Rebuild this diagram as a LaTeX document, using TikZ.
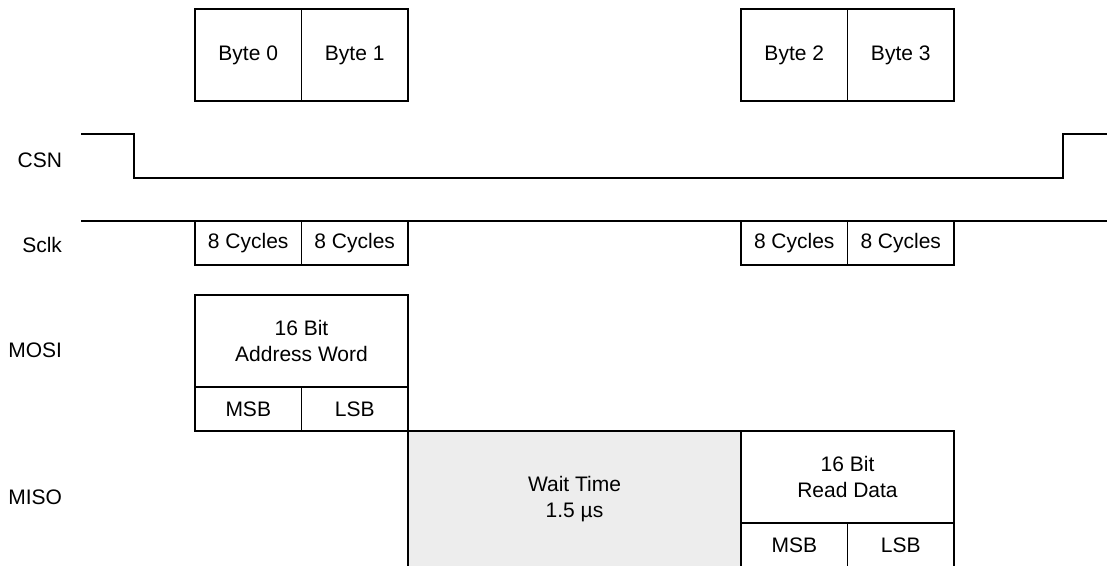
\documentclass[tikz,border=0pt]{standalone}
\usepackage{fontspec}
\setmainfont{Liberation Sans}
\usetikzlibrary{positioning}

\begin{document}
\begin{tikzpicture}[
  x=1pt, y=-1pt,
  line width=1.3pt,
  every node/.style={font=\fontsize{21}{26}\selectfont, outer sep=0pt, inner sep=0pt},
  bytebox/.style={rectangle, draw, minimum width=106.5pt, minimum height=92pt, align=center},
  cyclebox/.style={rectangle, draw, minimum width=106.5pt, minimum height=44pt, align=center},
  wordbox/.style={rectangle, draw, minimum width=213pt, minimum height=92pt, align=center},
  bitbox/.style={rectangle, draw, minimum width=106.5pt, minimum height=44pt, align=center},
  waitbox/.style={rectangle, draw, fill=black!7, minimum width=333pt, minimum height=136pt, align=center},
  siglabel/.style={anchor=east},
  wave/.style={line width=1.3pt}
]
\useasboundingbox (0,0) rectangle (1107,565);

% -------------------------
% SIGNAL NAMES
% -------------------------
\node[siglabel] (csn) at (62,160) {CSN};
\node[siglabel] (sclk) at (62,245) {Sclk};
\node[siglabel] (mosi) at (62,350) {MOSI};
\node[siglabel] (miso) at (62,497) {MISO};

% -------------------------
% BYTES
% -------------------------
\node[bytebox] (byte0) at (248.25,55) {Byte 0};
\node[bytebox, right=0pt of byte0] (byte1) {Byte 1};
\node[bytebox] (byte2) at (794.25,55) {Byte 2};
\node[bytebox, right=0pt of byte2] (byte3) {Byte 3};

% CSN line
\draw[wave] (81,134) -- (134,134) -- (134,178) -- (1063,178) -- (1063,134) -- (1107,134);

% -------------------------
% SCLK
% -------------------------
\draw[wave] (81,221) -- (1107,221);
\node[cyclebox] (cyc0) at (248.25,243) {8 Cycles};
\node[cyclebox, right=0pt of cyc0] (cyc1) {8 Cycles};
\node[cyclebox] (cyc2) at (794.25,243) {8 Cycles};
\node[cyclebox, right=0pt of cyc2] (cyc3) {8 Cycles};

% -------------------------
% MOSI
% -------------------------
\node[wordbox] (addr) at (301.5,341) {16 Bit\\Address Word};
\node[bitbox, below=0pt of addr.south west, anchor=north west] (msbA) {MSB};
\node[bitbox, right=0pt of msbA] (lsbA) {LSB};

% -------------------------
% MISO
% -------------------------
\node[waitbox] (wait) at (574.5,499) {Wait Time\\1.5 µs};
\node[wordbox] (rdata) at (847.5,477) {16 Bit\\Read Data};
\node[bitbox, below=0pt of rdata.south west, anchor=north west] (msbR) {MSB};
\node[bitbox, right=0pt of msbR] (lsbR) {LSB};

\end{tikzpicture}
\end{document}
